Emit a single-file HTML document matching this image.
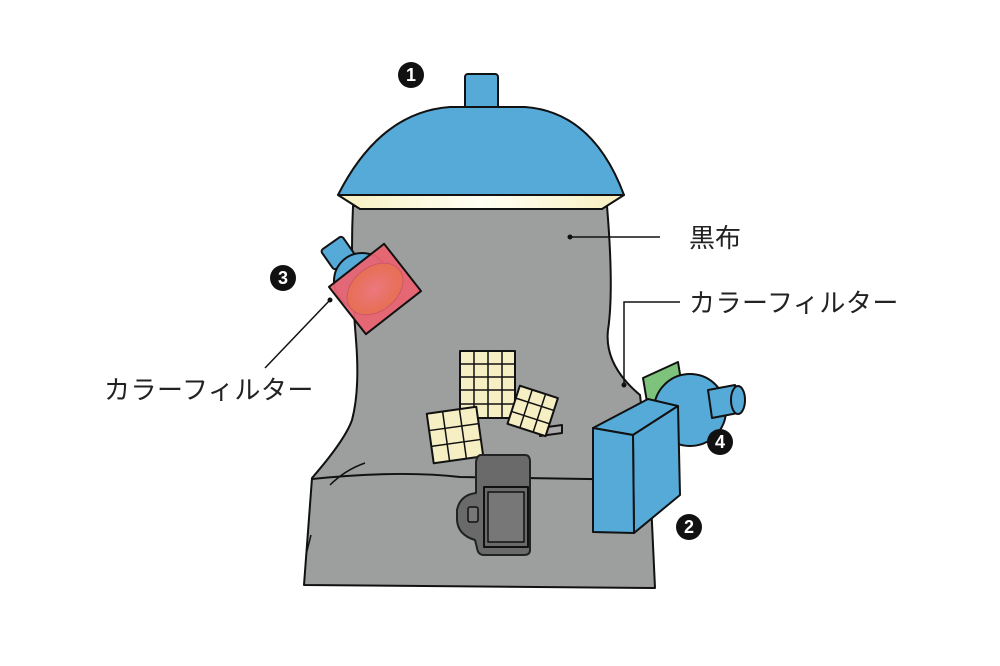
<!DOCTYPE html><html><head><meta charset="utf-8"><style>body{margin:0;background:#fff}svg{display:block}text{font-family:"Liberation Sans","Noto Sans CJK JP",sans-serif}</style></head><body>
<svg width="1000" height="666" viewBox="0 0 1000 666">
<defs><linearGradient id="lg" x1="0" x2="1"><stop offset="0" stop-color="#f8f0c0"/><stop offset=".5" stop-color="#fffff4"/><stop offset="1" stop-color="#f8f0c0"/></linearGradient>
<radialGradient id="rg"><stop offset="0" stop-color="#ec7a80"/><stop offset="1" stop-color="#e8704f"/></radialGradient></defs>
<g stroke="#111" stroke-width="2" stroke-linejoin="round">
<path d="M353 206 L607 206 Q614 290 608 330 Q604 365 640 395 L650 480 L655 588 L304 585 L312 478 Q345 440 352 420 Q360 390 356 340 Q350 270 353 206Z" fill="#9d9e9e"/>
<path d="M312 479 Q400 470 460 477 L655 480" fill="none"/>
<path d="M330 485 Q345 470 365 463 M311 535 L306 555" fill="none" stroke-width="1.5"/>
<path d="M338 195 L624 195 L602 209 L360 209Z" fill="url(#lg)"/>
<rect x="465" y="74" width="33" height="36" rx="3" fill="#56aad8"/>
<path d="M338 195 Q380 112 450 107 L525 107 Q593 112 624 195Z" fill="#56aad8"/>
<rect x="325" y="241" width="26" height="24" rx="3" fill="#56aad8" transform="rotate(-35 338 253)"/>
<circle cx="362" cy="281" r="28" fill="#56aad8"/>
<g transform="rotate(-38 375 289)"><rect x="340" y="259" width="70" height="60" fill="#ea6472" fill-opacity=".95"/><ellipse cx="375" cy="289" rx="31" ry="22" fill="url(#rg)" stroke="#c9566a" stroke-width="1" opacity=".9"/></g>
<rect x="460" y="351" width="55" height="67" fill="#f6efc4"/>
<path d="M474 351V418M488 351V418M502 351V418M460 364H515M460 377H515M460 390H515M460 404H515" stroke-width="1.5"/>
<g transform="rotate(-8 455 435)"><rect x="430" y="410" width="50" height="50" fill="#f6efc4"/><path d="M446 410V460M463 410V460M430 427H480M430 443H480" stroke-width="1.5"/></g>
<path d="M540 428 L562 425 L562 433 L540 436Z" fill="#aaa"/>
<g transform="rotate(18 533 410)"><rect x="513" y="391" width="40" height="40" fill="#f6efc4"/><path d="M526 391V431M540 391V431M513 404H553M513 418H553" stroke-width="1.5"/></g>
<path d="M481 455 L525 455 Q530 455 530 462 L530 550 Q530 555 524 555 L484 555 Q478 555 477 548 L475 540 Q458 535 457 520 L457 510 Q460 495 476 493 L476 462 Q477 455 481 455Z" fill="#6a6a6a" stroke="#222"/>
<rect x="484" y="487" width="44" height="60" fill="#6a6a6a"/><rect x="488" y="492" width="36" height="50" fill="#777" stroke-width="1.5"/>
<rect x="468" y="507" width="10" height="15" rx="2" fill="#777" stroke-width="1.5"/>
<path d="M643 378 L678 362 L685 405 L650 420Z" fill="#7ec37c"/>
<circle cx="690" cy="410" r="36" fill="#56aad8"/>
<path d="M708 390 L735 385 L738 413 L712 418Z" fill="#56aad8"/>
<ellipse cx="738" cy="400" rx="7" ry="14" fill="#56aad8"/>
<path d="M593 428 L648 399 L678 406 L633 435Z" fill="#56aad8"/>
<path d="M633 435 L678 406 L680 495 L634 533Z" fill="#56aad8"/>
<path d="M593 428 L633 435 L634 533 L593 532Z" fill="#56aad8"/>
</g>
<g stroke="#111" stroke-width="1.5" fill="none"><path d="M570 237 H660"/><path d="M624 385 V302 H680"/><path d="M330 300 L265 368"/></g>
<circle cx="570" cy="237" r="2.5" fill="#111"/><circle cx="624" cy="385" r="2.5" fill="#111"/><circle cx="330" cy="300" r="2.5" fill="#111"/>
<g font-weight="bold" font-size="18" text-anchor="middle" fill="#fff">
<circle cx="411" cy="75" r="13" fill="#111"/><text x="411" y="81">1</text>
<circle cx="689" cy="527" r="13" fill="#111"/><text x="689" y="533">2</text>
<circle cx="283" cy="278" r="13" fill="#111"/><text x="283" y="284">3</text>
<circle cx="720" cy="442" r="13" fill="#111"/><text x="720" y="448">4</text>
</g>
<g font-size="26" fill="#222"><text x="689" y="247">黒布</text><text x="689" y="312" letter-spacing="0.5">カラーフィルター</text><text x="104" y="399" letter-spacing="0.5">カラーフィルター</text></g>
</svg></body></html>
